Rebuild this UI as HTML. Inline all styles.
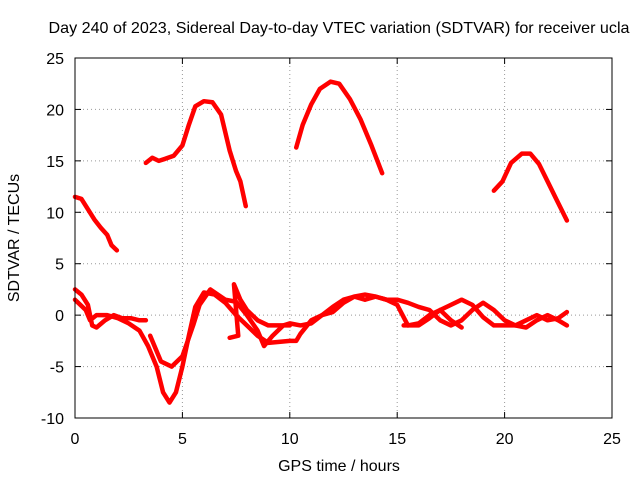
<!DOCTYPE html>
<html><head><meta charset="utf-8"><style>
body{margin:0;background:#fff}
svg text{font-family:"Liberation Sans",sans-serif;font-size:16px;fill:#000}
</style></head><body>
<svg id="chart" width="640" height="480" xmlns="http://www.w3.org/2000/svg">
<rect width="640" height="480" fill="#fff"/>
<text x="339" y="33" text-anchor="middle" textLength="581" lengthAdjust="spacingAndGlyphs">Day 240 of 2023, Sidereal Day-to-day VTEC variation (SDTVAR) for receiver ucla</text>
<text x="339" y="471" text-anchor="middle">GPS time / hours</text>
<text transform="translate(19,238) rotate(-90)" text-anchor="middle">SDTVAR / TECUs</text>
<g id="grid"></g><g id="ticks"></g><g id="series"></g>
<rect x="75" y="58" width="537" height="360" fill="none" stroke="#000" stroke-width="1"/>
</svg>
<script>
const xTicks=[0,5,10,15,20,25];
const yTicks=[-10,-5,0,5,10,15,20,25];
const arcA=[[0,11.5],[0.3,11.3],[0.6,10.3],[0.9,9.3],[1.2,8.5],[1.5,7.8],[1.7,6.8],[1.95,6.3]];
const arcB=[[3.3,14.8],[3.6,15.3],[3.9,15],[4.2,15.2],[4.6,15.5],[5.0,16.5],[5.3,18.5],[5.6,20.3],[6.0,20.8],[6.4,20.7],[6.8,19.5],[7.2,16],[7.5,14],[7.7,13],[7.95,10.6]];
const arcC=[[10.3,16.3],[10.6,18.5],[11,20.5],[11.4,22],[11.9,22.7],[12.3,22.5],[12.8,21],[13.3,19],[13.8,16.5],[14.3,13.8]];
const arcD=[[19.5,12.1],[19.9,13],[20.3,14.8],[20.8,15.7],[21.2,15.7],[21.6,14.7],[22,13],[22.4,11.3],[22.9,9.2]];
const low1=[[0,2.5],[0.3,2],[0.6,1],[0.8,-1],[1,-1.2],[1.4,-0.5],[1.8,0],[2.2,-0.3],[2.6,-0.3],[3,-0.5],[3.3,-0.5]];
const low2=[[0,1.5],[0.5,0.5],[0.7,-0.5],[1,0],[1.5,0],[2,-0.3],[2.5,-0.8],[3,-1.5],[3.4,-3],[3.8,-5],[4.1,-7.5],[4.4,-8.5],[4.7,-7.5],[5,-5],[5.3,-2],[5.6,0.8],[6,2.2],[6.5,2],[7,1.2],[7.5,0],[8,-1],[8.5,-2],[9,-2.7],[9.5,-2.6],[10,-2.5],[10.3,-2.5],[10.5,-1.8],[11,-0.5],[11.5,0],[12,0.3],[12.5,1.2],[13,1.8],[13.5,2],[14,1.8],[14.5,1.5],[15,1.5],[15.5,1.2],[16,0.8],[16.5,0.5],[17,-0.5],[17.5,-1],[18,-0.5],[18.5,0.5],[19,1.2],[19.5,0.5],[20,-0.5],[20.5,-1],[21,-1.2],[21.5,-0.5],[22,0],[22.5,-0.5],[22.9,-1]];
const low3=[[3.5,-2],[4,-4.5],[4.5,-5],[5,-4],[5.5,-1],[5.8,1],[6.3,2.5],[7,1.5],[7.5,1.3],[8,0],[8.5,-1.5],[8.8,-3],[9.2,-2],[9.7,-1],[10,-0.8],[10.5,-1],[11,-0.8],[11.5,0],[12,0.8],[12.5,1.5],[13,1.8],[13.5,1.5],[14,1.8],[14.5,1.5],[15,1],[15.5,-1],[16,-0.8],[16.5,0],[17,0.5],[17.5,1],[18,1.5],[18.5,1],[19,-0.2],[19.5,-1],[20,-1],[20.5,-1],[21,-0.5],[21.5,0],[22,-0.5],[22.5,-0.3],[22.9,0.3]];
const low4=[[7.2,-2.2],[7.6,-2],[7.4,3],[7.7,1.5],[8,0.5],[8.5,-0.5],[9,-1],[9.5,-1],[10,-1]];
const low5=[[15.3,-1],[16,-1],[16.5,-0.3],[17,0.5],[17.5,-0.5],[18,-1.2]];
const allSeries=[arcA,arcB,arcC,arcD,low1,low2,low3,low4,low5];
const X=v=>75+v*537/25, Y=v=>418-(v+10)*360/35;
const NS="http://www.w3.org/2000/svg";
const grid=document.getElementById('grid'),ticks=document.getElementById('ticks'),ser=document.getElementById('series');
function mk(tag,at,parent){const e=document.createElementNS(NS,tag);for(const k in at)e.setAttribute(k,at[k]);parent.appendChild(e);return e;}
xTicks.forEach(t=>{const x=X(t);
 if(t>0&&t<25){const g=mk('line',{x1:x,x2:x,y1:58,y2:418,stroke:'#999','stroke-dasharray':'1,3'},grid);
 
 }
 mk('line',{x1:x,x2:x,y1:418,y2:412,stroke:'#000'},ticks);mk('line',{x1:x,x2:x,y1:58,y2:64,stroke:'#000'},ticks);
 const l=mk('text',{x:x,y:444,'text-anchor':'middle'},ticks);l.textContent=t;
 
 });
yTicks.forEach(t=>{const y=Y(t);
 if(t>-10&&t<25){const g=mk('line',{x1:75,x2:612,y1:y,y2:y,stroke:'#999','stroke-dasharray':'1,3'},grid);
 
 }
 mk('line',{x1:75,x2:81,y1:y,y2:y,stroke:'#000'},ticks);mk('line',{x1:612,x2:606,y1:y,y2:y,stroke:'#000'},ticks);
 const l=mk('text',{x:64,y:y+6,'text-anchor':'end'},ticks);l.textContent=t;
 
 });
allSeries.forEach(s=>{const p=mk('polyline',{points:s.map(d=>X(d[0])+','+Y(d[1])).join(' '),fill:'none',stroke:'#f00','stroke-width':4.5,'stroke-linejoin':'round','stroke-linecap':'round'},ser);
 
 });
</script>
</body></html>
